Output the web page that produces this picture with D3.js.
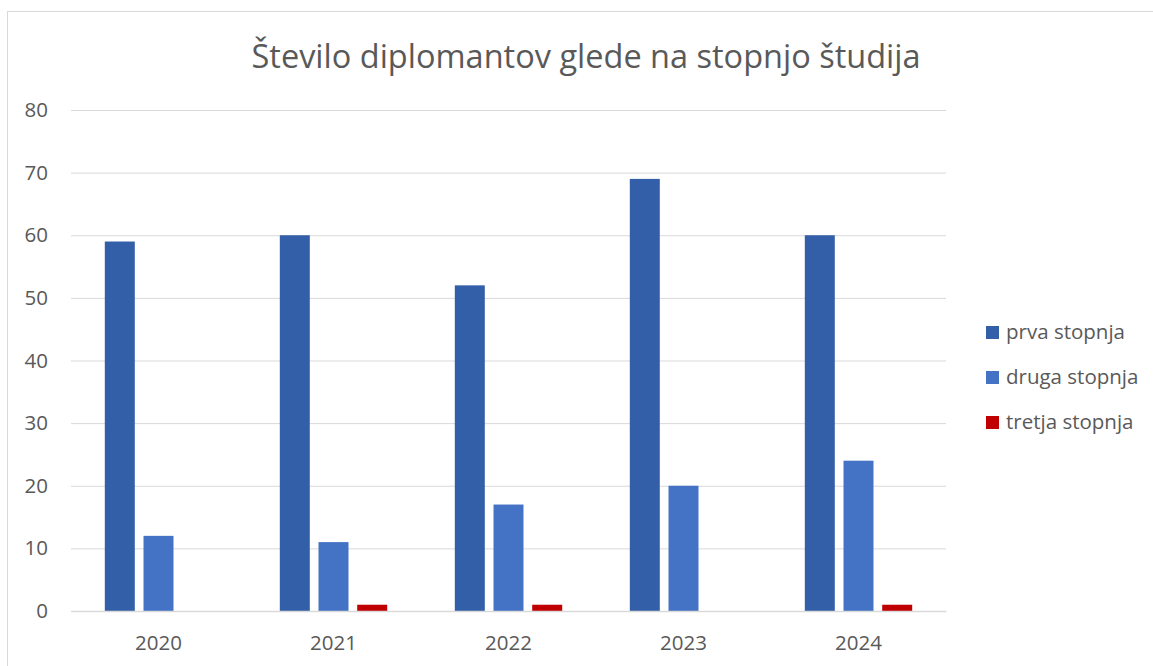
<!DOCTYPE html>
<html>
<head>
<meta charset="utf-8">
<script src="https://cdn.jsdelivr.net/npm/d3@7"></script>
<style>
  body { margin: 0; background: #fff; }
  svg { display: block; font-family: "Open Sans", sans-serif; }
</style>
</head>
<body>
<svg width="1153" height="666"></svg>
<script>
const years = ['2020', '2021', '2022', '2023', '2024'];
const seriesNames = ['prva stopnja', 'druga stopnja', 'tretja stopnja'];
const prva = [59, 60, 52, 69, 60];
const druga = [12, 11, 17, 20, 24];
const tretja = [0, 1, 1, 0, 1];
const yTicks = [0, 10, 20, 30, 40, 50, 60, 70, 80];
const colors = ['#335ea8', '#4472c4', '#c00000'];

const svg = d3.select('svg');
const width = 1153;
const height = 666;

const seriesValues = [prva, druga, tretja];
const data = years.map((y, i) => ({
  year: y,
  values: seriesNames.map((s, j) => ({ key: s, value: seriesValues[j][i] }))
}));

const margin = { top: 110, left: 71, right: 207, bottom: 55 };
const innerW = width - margin.left - margin.right;
const innerH = height - margin.top - margin.bottom;

// chart area border
svg.append('rect')
  .attr('x', 7.5).attr('y', 11.5)
  .attr('width', 1160).attr('height', 680)
  .attr('fill', 'none')
  .attr('stroke', '#d9d9d9');

svg.append('text')
  .attr('x', 586).attr('y', 68)
  .attr('text-anchor', 'middle')
  .attr('fill', '#595959')
  .style('font-size', '32.5px')
  .text('Število diplomantov glede na stopnjo študija');

const g = svg.append('g')
  .attr('transform', `translate(${margin.left},${margin.top})`);

const x0 = d3.scaleBand().domain(years).range([0, innerW]);
const x1 = d3.scaleBand().domain(seriesNames)
  .range([33.8, x0.bandwidth() - 33.8])
  .paddingInner(0.225);
const y = d3.scaleLinear().domain([0, 80]).range([innerH, 0]);

// gridlines
const yAxis = g.append('g')
  .call(d3.axisLeft(y).tickValues(yTicks).tickSize(-innerW).tickPadding(23));
yAxis.select('.domain').remove();
yAxis.selectAll('.tick line').attr('stroke', '#d9d9d9').attr('stroke-width', 1);
yAxis.selectAll('.tick text')
  .attr('fill', '#595959')
  .style('font-size', '20.5px')
  .style('font-family', '"Open Sans", sans-serif');

// bars
const groups = g.selectAll('.group').data(data)
  .enter().append('g')
    .attr('class', 'group')
    .attr('transform', d => `translate(${x0(d.year)},0)`);

groups.selectAll('rect').data(d => d.values)
  .enter().append('rect')
    .attr('x', d => x1(d.key))
    .attr('y', d => y(d.value))
    .attr('width', x1.bandwidth())
    .attr('height', d => innerH - y(d.value))
    .attr('fill', (d, i) => colors[i]);

// x axis
const xAxis = g.append('g')
  .attr('transform', `translate(0,${innerH})`)
  .call(d3.axisBottom(x0).tickSize(0).tickPadding(24));
xAxis.select('.domain').attr('stroke', '#d9d9d9').attr('stroke-width', 1.5);
xAxis.selectAll('.tick text')
  .attr('fill', '#595959')
  .style('font-size', '20.5px')
  .style('font-family', '"Open Sans", sans-serif');

// legend
const legend = svg.append('g')
  .attr('transform', 'translate(986,333)');
const items = legend.selectAll('.item').data(seriesNames)
  .enter().append('g')
    .attr('class', 'item')
    .attr('transform', (d, i) => `translate(0,${i * 45})`);
items.append('rect')
  .attr('x', 0).attr('y', -7)
  .attr('width', 13).attr('height', 13)
  .attr('fill', (d, i) => colors[i]);
items.append('text')
  .attr('x', 20).attr('y', -1)
  .attr('dy', '0.35em')
  .attr('fill', '#595959')
  .style('font-size', '20.5px')
  .text(d => d);
</script>
</body>
</html>
